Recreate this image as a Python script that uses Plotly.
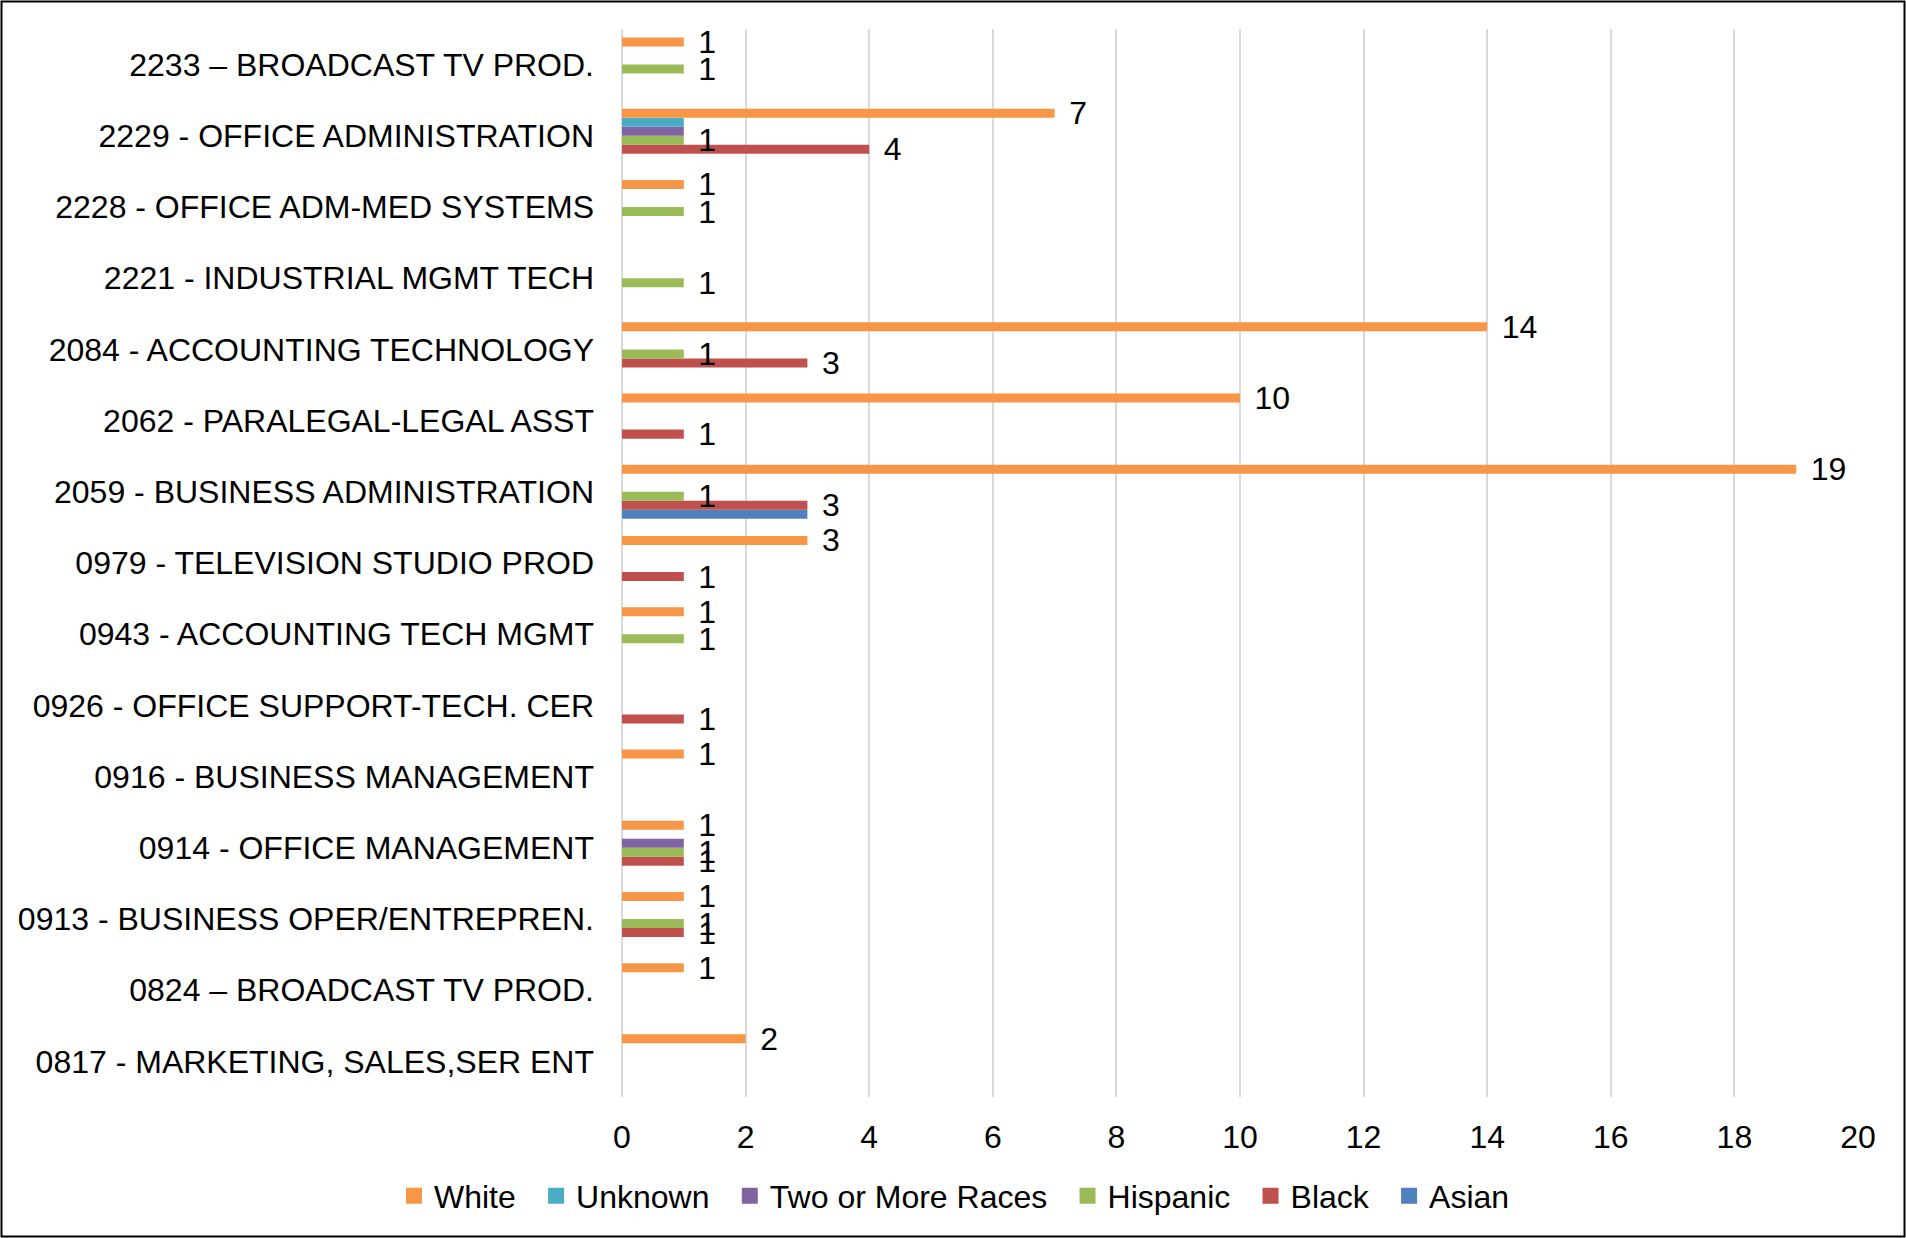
import plotly.graph_objects as go

categories = [
    "0817 - MARKETING, SALES,SER ENT",
    "0824 – BROADCAST TV PROD.",
    "0913 - BUSINESS OPER/ENTREPREN.",
    "0914 - OFFICE MANAGEMENT",
    "0916 - BUSINESS MANAGEMENT",
    "0926 - OFFICE SUPPORT-TECH. CER",
    "0943 - ACCOUNTING TECH MGMT",
    "0979 - TELEVISION STUDIO PROD",
    "2059 - BUSINESS ADMINISTRATION",
    "2062 - PARALEGAL-LEGAL ASST",
    "2084 - ACCOUNTING TECHNOLOGY",
    "2221 - INDUSTRIAL MGMT TECH",
    "2228 - OFFICE ADM-MED SYSTEMS",
    "2229 - OFFICE ADMINISTRATION",
    "2233 – BROADCAST TV PROD.",
]

white = [2, 1, 1, 1, 1, 0, 1, 3, 19, 10, 14, 0, 1, 7, 1]
unknown = [0, 0, 0, 0, 0, 0, 0, 0, 0, 0, 0, 0, 0, 1, 0]
two_or_more = [0, 0, 0, 1, 0, 0, 0, 0, 0, 0, 0, 0, 0, 1, 0]
hispanic = [0, 0, 1, 1, 0, 0, 1, 0, 1, 0, 1, 1, 1, 1, 1]
black = [0, 0, 1, 1, 0, 1, 0, 1, 3, 1, 3, 0, 0, 4, 0]
asian = [0, 0, 0, 0, 0, 0, 0, 0, 3, 0, 0, 0, 0, 0, 0]

x_ticks = [0, 2, 4, 6, 8, 10, 12, 14, 16, 18, 20]

# (name, values, color, show labels) -- added bottom-of-group first
series = [
    ("Asian", asian, "#4F81BD", False),
    ("Black", black, "#C0504D", True),
    ("Hispanic", hispanic, "#9BBB59", True),
    ("Two or More Races", two_or_more, "#8064A2", False),
    ("Unknown", unknown, "#4BACC6", False),
    ("White", white, "#F79646", True),
]

FONT = "Arial, Liberation Sans, sans-serif"
FS = 32
W, H = 1906, 1238
ML, MR, MT, MB = 622, 48, 29, 141
PW, PH = W - ML - MR, H - MT - MB

fig = go.Figure()
for name, vals, color, show in series:
    xs = [v if v else None for v in vals]
    txt = [("\u00a0\u200a" + str(v)) if (v and show) else "" for v in vals]
    fig.add_trace(go.Bar(
        name=name, y=categories, x=xs, orientation="h",
        marker=dict(color=color, line=dict(width=0)),
        text=txt, textposition="outside", constraintext="none",
        cliponaxis=False,
        textfont=dict(family=FONT, size=FS, color="#000000"),
        hoverinfo="x+y+name", showlegend=False,
    ))

# legend entries (square swatches like the reference)
for name, vals, color, show in series:
    fig.add_trace(go.Scatter(
        name=name + "\u00a0\u2009", x=[None], y=[None], mode="markers",
        marker=dict(symbol="square", size=17, color=color),
        showlegend=True, hoverinfo="skip",
    ))

fig.update_layout(
    width=W, height=H,
    margin=dict(l=ML, r=MR, t=MT, b=MB, pad=0),
    barmode="group", bargap=0.24, bargroupgap=0,
    plot_bgcolor="white", paper_bgcolor="white",
    font=dict(family=FONT, size=FS, color="#000000"),
    xaxis=dict(
        range=[0, 20], tickvals=x_ticks, ticktext=[str(t) for t in x_ticks],
        showgrid=True, gridcolor="#D9D9D9", gridwidth=2,
        zeroline=True, zerolinecolor="#D9D9D9", zerolinewidth=2,
        showline=False, ticks="", ticklabelstandoff=18,
        tickfont=dict(family=FONT, size=FS, color="#000000"),
        fixedrange=True,
    ),
    yaxis=dict(
        type="category", categoryorder="array", categoryarray=categories,
        showgrid=False, zeroline=False, showline=False, ticks="",
        ticklabelstandoff=27,
        tickfont=dict(family=FONT, size=FS, color="#000000"),
        fixedrange=True,
    ),
    legend=dict(
        orientation="h", traceorder="reversed",
        x=(962 - ML) / PW, xanchor="center",
        y=-(1196 - (MT + PH)) / PH, yanchor="middle",
        font=dict(family=FONT, size=FS, color="#000000"),
        itemclick=False, itemdoubleclick=False,
        bgcolor="rgba(0,0,0,0)",
    ),
    showlegend=True,
    shapes=[dict(
        type="rect", xref="paper", yref="paper",
        x0=-(ML - 1.5) / PW, x1=1 + (MR - 1.5) / PW,
        y0=-(MB - 1.5) / PH, y1=1 + (MT - 1.5) / PH,
        line=dict(color="#000000", width=2), fillcolor="rgba(0,0,0,0)",
        layer="above",
    )],
)

fig.write_html(
    "out.html",
    config={"displayModeBar": False},
    post_script="document.body.style.margin='0';document.body.style.overflow='hidden';",
)
